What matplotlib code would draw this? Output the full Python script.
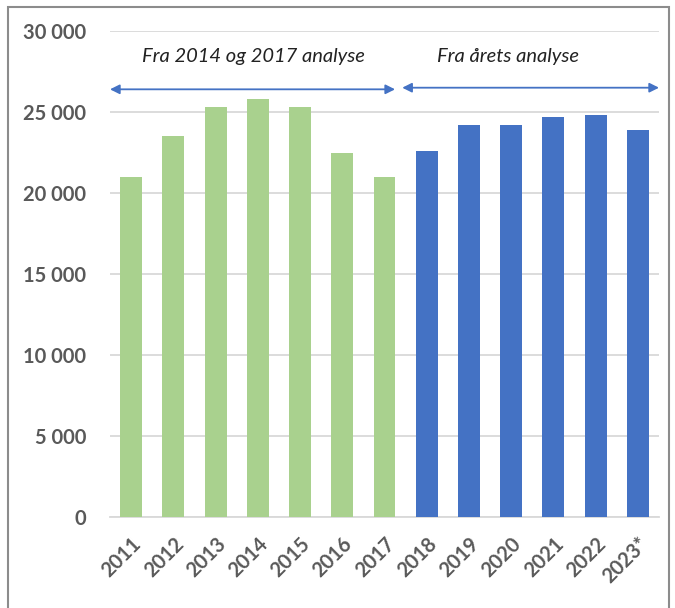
import matplotlib.pyplot as plt
from matplotlib.patches import Rectangle

# data
years = ['2011', '2012', '2013', '2014', '2015', '2016', '2017',
         '2018', '2019', '2020', '2021', '2022', '2023*']
values = [21000, 23500, 25300, 25800, 25300, 22500, 21000,
          22600, 24200, 24200, 24700, 24800, 23900]
old_n = 7  # first seven bars from earlier analyses

green = '#A9D18E'
blue = '#4472C4'
colors = [green] * old_n + [blue] * (len(years) - old_n)

plt.rcParams['font.family'] = ['Lato', 'DejaVu Sans']

fig = plt.figure(figsize=(6.75, 6.08), dpi=100)
ax = fig.add_axes([110 / 675, 1 - 517 / 608, 549 / 675, 486 / 608])

x = list(range(len(years)))
ax.bar(x, values, width=0.52, color=colors, zorder=3)

ax.set_xlim(-0.5, len(years) - 0.5)
ax.set_ylim(0, 30000)
ax.set_yticks(range(0, 30001, 5000))
ax.set_yticklabels([f'{v:,}'.replace(',', ' ') for v in range(0, 30001, 5000)])
ax.set_xticks(x)
ax.set_xticklabels(years, rotation=45, ha='right', rotation_mode='anchor')

ax.yaxis.grid(True, color='#d9d9d9', linewidth=1.3, zorder=0)
for s in ['top', 'right', 'left']:
    ax.spines[s].set_visible(False)
ax.spines['bottom'].set_color('#d9d9d9')
ax.spines['bottom'].set_linewidth(1.3)
ax.tick_params(length=0)
ax.tick_params(axis='y', pad=17)
ax.tick_params(axis='x', pad=12)
for lab in ax.get_xticklabels() + ax.get_yticklabels():
    lab.set_fontsize(14.5)
    lab.set_fontweight('bold')
    lab.set_color('#595959')

# arrows and section labels
arrow = dict(arrowstyle='<|-|>', color=blue, lw=1.3, mutation_scale=14,
             shrinkA=0, shrinkB=0)
ax.annotate('', xy=(-0.5, 26400), xytext=(6.25, 26400), arrowprops=arrow,
            annotation_clip=False)
ax.annotate('', xy=(6.42, 26500), xytext=(12.5, 26500), arrowprops=arrow,
            annotation_clip=False)
ax.text(2.9, 28400, 'Fra 2014 og 2017 analyse', ha='center', va='center',
        fontsize=14.5, style='italic', color='#222222')
ax.text(8.92, 28400, 'Fra årets analyse', ha='center', va='center',
        fontsize=14.5, style='italic', color='#222222')

# frame around the chart
fig.patches.append(Rectangle((8 / 675, -0.1), 661 / 675, 1.1 - 7 / 608,
                             transform=fig.transFigure, fill=False,
                             edgecolor='#8c8c8c', linewidth=1.5))

fig.savefig('out.png', dpi=100)
